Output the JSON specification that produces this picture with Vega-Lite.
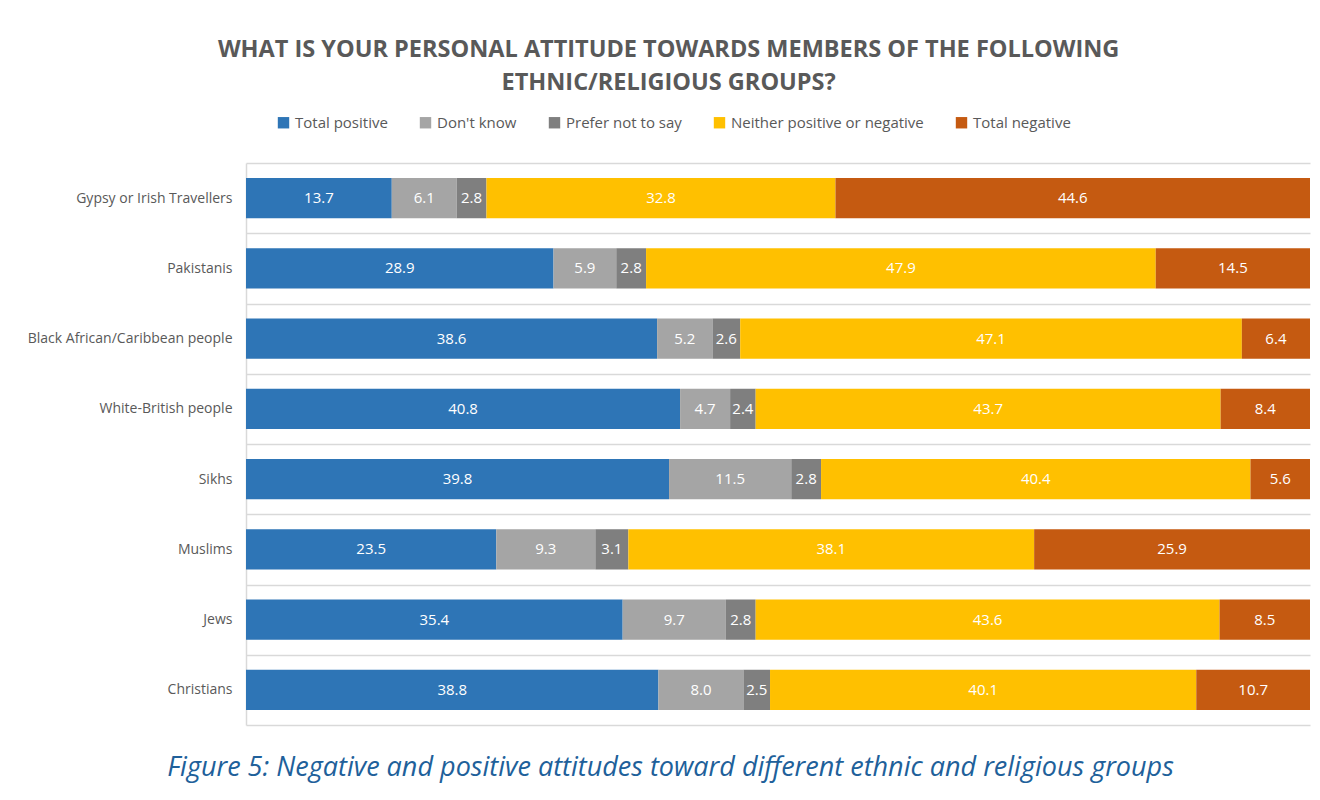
{
  "$schema": "https://vega.github.io/schema/vega-lite/v6.json",
  "width": 1064,
  "height": 562,
  "autosize": {"type": "none"},
  "padding": {"left": 246, "top": 163, "right": 10, "bottom": 75},
  "background": "white",
  "config": {"view": {"stroke": null}},
  "title": {
    "text": ["WHAT IS YOUR PERSONAL ATTITUDE TOWARDS MEMBERS OF THE FOLLOWING", "ETHNIC/RELIGIOUS GROUPS?"],
    "font": "Open Sans",
    "fontSize": 23.5,
    "fontWeight": "bold",
    "color": "#595959",
    "lineHeight": 33,
    "anchor": "middle",
    "frame": "bounds",
    "offset": 21
  },
  "data": {
    "values": [
      {"group": "Gypsy or Irish Travellers", "response": "Total positive", "k": 1, "value": 13.7},
      {"group": "Gypsy or Irish Travellers", "response": "Don't know", "k": 2, "value": 6.1},
      {"group": "Gypsy or Irish Travellers", "response": "Prefer not to say", "k": 3, "value": 2.8},
      {"group": "Gypsy or Irish Travellers", "response": "Neither positive or negative", "k": 4, "value": 32.8},
      {"group": "Gypsy or Irish Travellers", "response": "Total negative", "k": 5, "value": 44.6},
      {"group": "Pakistanis", "response": "Total positive", "k": 1, "value": 28.9},
      {"group": "Pakistanis", "response": "Don't know", "k": 2, "value": 5.9},
      {"group": "Pakistanis", "response": "Prefer not to say", "k": 3, "value": 2.8},
      {"group": "Pakistanis", "response": "Neither positive or negative", "k": 4, "value": 47.9},
      {"group": "Pakistanis", "response": "Total negative", "k": 5, "value": 14.5},
      {"group": "Black African/Caribbean people", "response": "Total positive", "k": 1, "value": 38.6},
      {"group": "Black African/Caribbean people", "response": "Don't know", "k": 2, "value": 5.2},
      {"group": "Black African/Caribbean people", "response": "Prefer not to say", "k": 3, "value": 2.6},
      {"group": "Black African/Caribbean people", "response": "Neither positive or negative", "k": 4, "value": 47.1},
      {"group": "Black African/Caribbean people", "response": "Total negative", "k": 5, "value": 6.4},
      {"group": "White-British people", "response": "Total positive", "k": 1, "value": 40.8},
      {"group": "White-British people", "response": "Don't know", "k": 2, "value": 4.7},
      {"group": "White-British people", "response": "Prefer not to say", "k": 3, "value": 2.4},
      {"group": "White-British people", "response": "Neither positive or negative", "k": 4, "value": 43.7},
      {"group": "White-British people", "response": "Total negative", "k": 5, "value": 8.4},
      {"group": "Sikhs", "response": "Total positive", "k": 1, "value": 39.8},
      {"group": "Sikhs", "response": "Don't know", "k": 2, "value": 11.5},
      {"group": "Sikhs", "response": "Prefer not to say", "k": 3, "value": 2.8},
      {"group": "Sikhs", "response": "Neither positive or negative", "k": 4, "value": 40.4},
      {"group": "Sikhs", "response": "Total negative", "k": 5, "value": 5.6},
      {"group": "Muslims", "response": "Total positive", "k": 1, "value": 23.5},
      {"group": "Muslims", "response": "Don't know", "k": 2, "value": 9.3},
      {"group": "Muslims", "response": "Prefer not to say", "k": 3, "value": 3.1},
      {"group": "Muslims", "response": "Neither positive or negative", "k": 4, "value": 38.1},
      {"group": "Muslims", "response": "Total negative", "k": 5, "value": 25.9},
      {"group": "Jews", "response": "Total positive", "k": 1, "value": 35.4},
      {"group": "Jews", "response": "Don't know", "k": 2, "value": 9.7},
      {"group": "Jews", "response": "Prefer not to say", "k": 3, "value": 2.8},
      {"group": "Jews", "response": "Neither positive or negative", "k": 4, "value": 43.6},
      {"group": "Jews", "response": "Total negative", "k": 5, "value": 8.5},
      {"group": "Christians", "response": "Total positive", "k": 1, "value": 38.8},
      {"group": "Christians", "response": "Don't know", "k": 2, "value": 8.0},
      {"group": "Christians", "response": "Prefer not to say", "k": 3, "value": 2.5},
      {"group": "Christians", "response": "Neither positive or negative", "k": 4, "value": 40.1},
      {"group": "Christians", "response": "Total negative", "k": 5, "value": 10.7}
    ]
  },
  "encoding": {
    "y": {
      "field": "group",
      "type": "nominal",
      "sort": null,
      "scale": {"paddingInner": 0, "paddingOuter": 0},
      "axis": {
        "title": null,
        "labelFont": "Open Sans",
        "labelFontSize": 14,
        "labelLimit": 400,
        "labelColor": "#595959",
        "labelPadding": 14,
        "ticks": false,
        "domainColor": "#d9d9d9",
        "domainWidth": 1.5,
        "grid": true,
        "gridColor": "#d9d9d9",
        "gridWidth": 1.5,
        "tickBand": "extent"
      }
    },
    "x": {
      "field": "value",
      "type": "quantitative",
      "stack": "normalize",
      "scale": {"domain": [0, 1], "nice": false},
      "axis": {
        "title": "Figure 5: Negative and positive attitudes toward different ethnic and religious groups",
        "titleFont": "Open Sans",
        "titleFontStyle": "italic",
        "titleFontWeight": "normal",
        "titleFontSize": 27,
        "titleColor": "#20609A",
        "titleLimit": 1300,
        "titleX": 424,
        "titleY": 29,
        "titleAnchor": "middle",
        "titleAlign": "center",
        "labels": false,
        "ticks": false,
        "domain": false,
        "grid": false
      }
    },
    "order": {"field": "k", "type": "quantitative"}
  },
  "layer": [
    {
      "mark": {"type": "bar", "height": {"band": 0.57}},
      "encoding": {
        "color": {
          "field": "response",
          "type": "nominal",
          "scale": {
            "domain": ["Total positive", "Don't know", "Prefer not to say", "Neither positive or negative", "Total negative"],
            "range": ["#2E75B6", "#A5A5A5", "#7F7F7F", "#FFC000", "#C55A11"]
          },
          "legend": {
            "title": null,
            "orient": "none",
            "direction": "horizontal",
            "legendX": 30,
            "legendY": -48,
            "symbolType": "square",
            "symbolSize": 130,
            "symbolStrokeWidth": 0,
            "labelFont": "Open Sans",
            "labelFontSize": 15,
            "labelLimit": 400,
            "labelColor": "#595959",
            "labelOffset": 4,
            "columnPadding": 30
          }
        }
      }
    },
    {
      "mark": {"type": "text", "color": "white", "font": "Open Sans", "fontSize": 15},
      "encoding": {
        "x": {"field": "value", "type": "quantitative", "stack": "normalize", "bandPosition": 0.5},
        "text": {"field": "value", "type": "quantitative", "format": ".1f"}
      }
    }
  ]
}
